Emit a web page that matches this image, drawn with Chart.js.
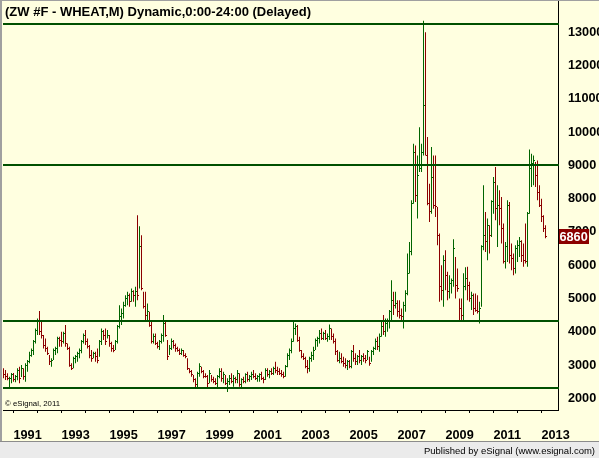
<!DOCTYPE html>
<html>
<head>
<meta charset="utf-8">
<title>ZW #F - WHEAT, monthly</title>
<script src="https://cdn.jsdelivr.net/npm/chart.js@4.4.1/dist/chart.umd.min.js"></script>
<style>
  html, body { margin: 0; padding: 0; background: #ffffe0; }
  canvas { display: block; }
</style>
</head>
<body>
<canvas id="wheatChart" width="599" height="458"></canvas>
<script>
// monthly bars, the first one is Aug 1990, the last one Mar 2013
var firstYear = 1990;
var firstMonth = 8;

var highs = [
    2900, 2850, 2750, 2650, 2760,
    2760, 2700, 2900, 2950, 3000, 2900, 3050, 3150, 3400, 3500, 3750, 4100,
    4400, 4620, 4300, 3900, 3800, 3550, 3300, 3200, 3500, 3550, 3850, 3850,
    4000, 4000, 4200, 3650, 3550, 3050, 3250, 3300, 3400, 3500, 3750, 3950,
    4050, 3800, 3600, 3450, 3400, 3400, 3500, 3750, 4100, 4050, 4100, 4050,
    3900, 3700, 3600, 3750, 4200, 4800, 4700, 4900, 5100, 5200, 5150, 5300,
    5250, 5350, 7500, 7170, 6900, 5200, 5200, 4850, 4600, 4350, 3950, 3950,
    3700, 3750, 3950, 4500, 4300, 3750, 3600, 3800, 3750, 3650, 3550, 3500,
    3500, 3450, 3350, 3200, 2900, 2850, 2700, 2600, 2800, 3050, 2950, 2850,
    2750, 2700, 2850, 2700, 2650, 2600, 2700, 2900, 2900, 2800, 2700, 2600,
    2700, 2750, 2700, 2650, 2850, 2750, 2600, 2650, 2750, 2800, 2700, 2800,
    2850, 2750, 2700, 2750, 2800, 2650, 2900, 2900, 2850, 2900, 2950, 3100,
    2950, 2900, 2850, 2800, 3000, 3350, 3500, 3800, 4350, 4250, 4200, 3850,
    3450, 3350, 3250, 3150, 3250, 3400, 3550, 3800, 3850, 4050, 4100, 4000,
    4050, 3950, 4220, 4100, 3950, 3800, 3450, 3400, 3350, 3250, 3200, 3150,
    3150, 3450, 3600, 3350, 3300, 3450, 3300, 3350, 3300, 3450, 3250, 3450,
    3550, 3800, 3850, 3950, 4300, 4500, 4400, 4400, 4650, 5550, 5200, 5200,
    4950, 4950, 4700, 4900, 5250, 6350, 6700, 7950, 9650, 9600, 9300, 10150,
    9650, 13350, 13000, 9850, 8450, 9550, 9300, 9300, 7750, 6950, 6000, 6300,
    6450, 5800, 5700, 5600, 6780, 6250, 5900, 5000, 5000, 5760, 5940, 5950,
    5500, 5200, 5150, 5150, 5100, 4900, 6600, 8400, 7600, 7400, 7200, 7950,
    8650, 8950, 8400, 8250, 8050, 7250, 6700, 7950, 7900, 6650, 6350, 6600,
    6750, 6850, 6750, 6650, 7250, 7600, 9480, 9350, 9300, 9100, 9150, 8400,
    8000, 7500, 7200
];
var lows = [
    2600, 2550, 2540, 2320, 2450,
    2500, 2480, 2540, 2450, 2640, 2560, 2500, 2800, 3050, 3250, 3300, 3650,
    3900, 3900, 3800, 3500, 3400, 3300, 3000, 2950, 3150, 3300, 3350, 3550,
    3550, 3650, 3550, 3450, 2950, 2850, 2900, 3050, 3100, 3200, 3350, 3650,
    3600, 3500, 3200, 3100, 3200, 3100, 3050, 3250, 3600, 3750, 3600, 3800,
    3550, 3400, 3380, 3450, 3650, 4100, 4200, 4400, 4750, 4800, 4750, 4900,
    4900, 4750, 4950, 5300, 5250, 4700, 4300, 4300, 4150, 3650, 3650, 3600,
    3500, 3450, 3650, 3700, 3850, 3150, 3300, 3450, 3500, 3400, 3400, 3300,
    3300, 3250, 3200, 2850, 2750, 2650, 2480, 2320, 2320, 2650, 2750, 2600,
    2620, 2330, 2450, 2500, 2450, 2400, 2320, 2600, 2500, 2450, 2400, 2190,
    2400, 2450, 2350, 2450, 2450, 2350, 2330, 2450, 2450, 2500, 2500, 2550,
    2600, 2550, 2500, 2500, 2550, 2450, 2550, 2650, 2600, 2700, 2700, 2750,
    2700, 2700, 2650, 2600, 2650, 2930, 3150, 3350, 3700, 3900, 3700, 3400,
    3200, 3150, 2900, 2750, 2800, 3100, 3150, 3450, 3550, 3650, 3750, 3750,
    3750, 3700, 3750, 3750, 3650, 3300, 3100, 3050, 3050, 2950, 2900, 2850,
    2900, 2900, 3100, 3000, 3000, 3050, 3000, 3100, 3050, 3150, 2980, 3100,
    3300, 3450, 3450, 3400, 3850, 3900, 3850, 4000, 4100, 4300, 4500, 4700,
    4450, 4400, 4350, 4100, 4600, 5100, 5750, 6300, 7850, 7900, 7400, 8800,
    8800, 9300, 9300, 7800, 7300, 7550, 7700, 7450, 6600, 4900, 4950, 4750,
    5250, 4950, 5000, 5150, 5350, 5000, 5200, 4340, 4350, 4340, 5250, 4950,
    4900, 4650, 4500, 4600, 4550, 4250, 4750, 6450, 6400, 6150, 6350, 6850,
    7550, 7350, 6550, 7200, 6650, 6050, 5900, 6100, 6050, 5850, 5700, 5750,
    6100, 6250, 6100, 5950, 6050, 5950, 7550, 8350, 8400, 8350, 7950, 7750,
    7300, 7000, 6810
];
var closes = [
    2700, 2650, 2580, 2600, 2700,
    2550, 2650, 2850, 2600, 2900, 2650, 3000, 3100, 3300, 3450, 3700, 4050,
    4300, 4000, 3900, 3600, 3500, 3350, 3100, 3150, 3450, 3500, 3800, 3750,
    3700, 3950, 3650, 3500, 3000, 2900, 3200, 3250, 3350, 3450, 3700, 3900,
    3700, 3550, 3300, 3200, 3350, 3250, 3150, 3700, 4000, 3900, 3700, 3900,
    3650, 3500, 3450, 3700, 4150, 4450, 4550, 4800, 5000, 5100, 4900, 5200,
    5100, 5200, 5100, 6550, 5300, 4750, 4500, 4600, 4200, 3700, 3850, 3650,
    3550, 3700, 3900, 4250, 3900, 3250, 3500, 3700, 3600, 3500, 3450, 3350,
    3450, 3300, 3250, 2900, 2800, 2700, 2550, 2400, 2750, 2950, 2800, 2650,
    2640, 2450, 2750, 2550, 2500, 2450, 2650, 2800, 2600, 2700, 2450, 2500,
    2600, 2500, 2600, 2550, 2750, 2400, 2550, 2500, 2700, 2550, 2650, 2700,
    2650, 2600, 2650, 2700, 2600, 2550, 2850, 2700, 2800, 2750, 2900, 2850,
    2800, 2750, 2700, 2650, 2950, 3300, 3450, 3700, 4100, 4150, 3750, 3450,
    3250, 3200, 2950, 2900, 3200, 3300, 3450, 3750, 3800, 3950, 3800, 3950,
    3800, 3850, 4100, 3850, 3700, 3400, 3150, 3200, 3100, 3050, 3000, 3100,
    2950, 3400, 3200, 3100, 3250, 3150, 3250, 3200, 3150, 3400, 3050, 3400,
    3500, 3700, 3550, 3850, 4150, 4000, 4250, 4300, 4600, 4950, 4800, 4850,
    4600, 4500, 4450, 4800, 5150, 5750, 6400, 7850, 9400, 8100, 8700, 8900,
    9400, 10800, 9300, 7850, 7600, 8650, 7800, 7750, 6900, 5350, 5250, 6150,
    5700, 5200, 5450, 5550, 6500, 5400, 5300, 4700, 4500, 5350, 5600, 5400,
    5000, 5100, 4700, 4650, 4600, 4700, 6550, 6900, 6700, 7200, 6900, 7900,
    8500, 7700, 7800, 7700, 7100, 6100, 6550, 7800, 6300, 6200, 5900, 6500,
    6600, 6700, 6300, 6150, 6100, 7550, 8900, 9050, 9150, 8700, 8200, 7800,
    7450, 7100, 6860
];

var lastPrice = 6860;
var levelLines = [13250, 9020, 4330, 2320];
var priceTicks = [2000, 3000, 4000, 5000, 6000, 7000, 8000, 9000, 10000, 11000, 12000, 13000];
var yearTicks = [1991, 1992, 1993, 1994, 1995, 1996, 1997, 1998, 1999, 2000, 2001, 2002,
                 2003, 2004, 2005, 2006, 2007, 2008, 2009, 2010, 2011, 2012, 2013];
var yearLabels = ['1991', '1993', '1995', '1997', '1999', '2001', '2003', '2005', '2007', '2009', '2011', '2013'];

var upColor = '#006400';
var downColor = '#8b0000';
var lineColor = '#005000';
var fontFamily = '"Liberation Sans", Arial, sans-serif';
var boldFont = 'bold 12.7px ' + fontFamily;

function monthNumber(i) {
    return firstYear * 12 + (firstMonth - 1) + i;
}

var barColors = closes.map(function (c, i) {
    if (i === 0) return downColor;
    return c >= closes[i - 1] ? upColor : downColor;
});

var bars = highs.map(function (h, i) {
    return { x: monthNumber(i), y: [lows[i], h] };
});

var esignalLook = {
    id: 'esignalLook',
    beforeDraw: function (chart) {
        var ctx = chart.ctx;
        ctx.save();
        ctx.fillStyle = '#ffffe0';
        ctx.fillRect(0, 0, chart.width, chart.height);
        ctx.fillStyle = '#a0a0a0';
        ctx.fillRect(0, 0, chart.width, 1);
        ctx.fillRect(0, 0, 2, 441);
        ctx.fillStyle = '#ebebeb';
        ctx.fillRect(0, 442, chart.width, chart.height - 442);
        ctx.fillStyle = '#8c8c8c';
        ctx.fillRect(0, 441, chart.width, 1);
        // price scale line goes up through the title bar
        ctx.fillStyle = '#000';
        ctx.fillRect(Math.floor(chart.chartArea.right), 1, 1, chart.chartArea.top);
        ctx.restore();
    },
    afterDatasetsDraw: function (chart) {
        var ctx = chart.ctx;
        var xs = chart.scales.x;
        var ys = chart.scales.y;
        var area = chart.chartArea;
        ctx.save();
        // close ticks on the right of every bar
        closes.forEach(function (c, i) {
            var px = Math.floor(xs.getPixelForValue(monthNumber(i)));
            var py = ys.getPixelForValue(c);
            ctx.fillStyle = barColors[i];
            ctx.fillRect(px + 1, Math.floor(py), 1, 1);
        });
        // the drawn support / resistance lines
        ctx.fillStyle = lineColor;
        levelLines.forEach(function (v) {
            var py = Math.round(ys.getPixelForValue(v));
            ctx.fillRect(area.left, py - 1, area.right - area.left + 1, 2);
        });
        ctx.restore();
    },
    afterDraw: function (chart) {
        var ctx = chart.ctx;
        var ys = chart.scales.y;
        ctx.save();
        ctx.textBaseline = 'alphabetic';
        ctx.textAlign = 'left';

        ctx.fillStyle = '#000';
        ctx.font = 'bold 13px ' + fontFamily;
        ctx.fillText('(ZW #F - WHEAT,M) Dynamic,0:00-24:00 (Delayed)', 5, 16);

        ctx.font = '7.8px ' + fontFamily;
        ctx.fillText('\u00a9 eSignal, 2011', 5, 406);

        ctx.font = '9.5px ' + fontFamily;
        ctx.textAlign = 'right';
        ctx.fillText('Published by eSignal (www.esignal.com)', 595, 454);

        // last price marker on the price scale
        var py = ys.getPixelForValue(lastPrice);
        ctx.font = boldFont;
        ctx.textAlign = 'left';
        var w = ctx.measureText(String(lastPrice)).width;
        ctx.fillStyle = '#8b0000';
        ctx.fillRect(559, Math.round(py) - 8, Math.ceil(w) + 1, 15);
        ctx.fillStyle = '#ffffff';
        ctx.textBaseline = 'middle';
        ctx.fillText(String(lastPrice), 559.5, py + 0.5);
        ctx.restore();
    }
};

var ctx = document.getElementById('wheatChart').getContext('2d');
window.wheatChart = new Chart(ctx, {
    type: 'bar',
    data: {
        datasets: [{
            data: bars,
            backgroundColor: barColors,
            borderWidth: 0,
            barThickness: 1,
            inflateAmount: 0
        }]
    },
    options: {
        responsive: false,
        animation: false,
        events: [],
        layout: {
            padding: { top: 18, left: 3, right: 0, bottom: 17 }
        },
        plugins: {
            legend: { display: false },
            tooltip: { enabled: false }
        },
        scales: {
            x: {
                type: 'linear',
                offset: false,
                min: 1991 * 12 - 5.25,
                max: 1991 * 12 + 272.25,
                afterBuildTicks: function (scale) {
                    scale.ticks = yearTicks.map(function (y) { return { value: y * 12 }; });
                },
                afterFit: function (scale) {
                    // the last year label may run past the plot, like in eSignal
                    scale.height = 31;
                    scale.paddingLeft = 0;
                    scale.paddingRight = 0;
                },
                grid: {
                    offset: false,
                    drawOnChartArea: false,
                    drawTicks: true,
                    tickLength: 3,
                    color: '#000'
                },
                border: { display: true, color: '#000', width: 1 },
                ticks: {
                    align: 'start',
                    padding: 15,
                    autoSkip: false,
                    maxRotation: 0,
                    color: '#000',
                    font: { family: fontFamily, size: 12.7, weight: 'bold' },
                    callback: function (value) {
                        var label = String(value / 12);
                        return yearLabels.indexOf(label) >= 0 ? label : '';
                    }
                }
            },
            y: {
                position: 'right',
                min: 1648,
                max: 13430,
                afterBuildTicks: function (scale) {
                    scale.ticks = priceTicks.map(function (v) { return { value: v }; });
                },
                afterFit: function (scale) {
                    scale.width = 41;
                    scale.paddingTop = 0;
                    scale.paddingBottom = 0;
                },
                grid: { display: false },
                border: { display: true, color: '#000', width: 1 },
                ticks: {
                    padding: 2,
                    color: '#000',
                    font: { family: fontFamily, size: 12.7, weight: 'bold' },
                    callback: function (value) { return String(value); }
                }
            }
        }
    },
    plugins: [esignalLook]
});
</script>
</body>
</html>
